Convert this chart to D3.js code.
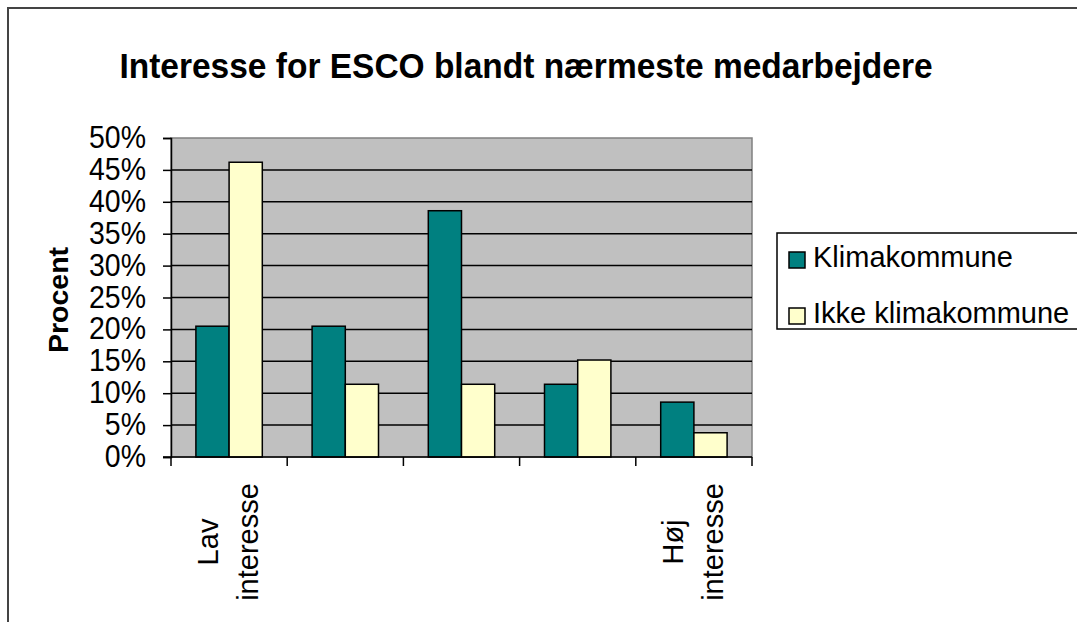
<!DOCTYPE html>
<html>
<head>
<meta charset="utf-8">
<script src="https://cdn.jsdelivr.net/npm/d3@7"></script>
<style>
  body { margin: 0; background: #fff; }
  text { font-family: "Liberation Sans", Arial, sans-serif; fill: #000; }
</style>
</head>
<body>
<script>
// data
const categories = [["Lav", "interesse"], [], [], [], ["Høj", "interesse"]];
const seriesNames = ["Klimakommune", "Ikke klimakommune"];
const klima = [20.5, 20.5, 38.6, 11.4, 8.6];
const ikkeKlima = [46.2, 11.4, 11.4, 15.2, 3.8];
const yTicks = [0, 5, 10, 15, 20, 25, 30, 35, 40, 45, 50];

function init() {
    var w = 1077;
    var h = 622;
    var colors = ["#008080", "#ffffcc"];
    var series = [klima, ikkeKlima];

    var svg = d3.select("body")
        .append("svg")
        .attr("width", w)
        .attr("height", h);

    // outer chart frame
    svg.append("rect")
        .attr("x", 8).attr("y", 8)
        .attr("width", w + 20).attr("height", h + 20)
        .attr("fill", "none")
        .attr("stroke", "#444")
        .attr("stroke-width", 2);

    svg.append("text")
        .attr("transform", "translate(526,78) scale(1,1.05)")
        .attr("text-anchor", "middle")
        .style("font-size", "33.5px")
        .style("font-weight", "bold")
        .text("Interesse for ESCO blandt nærmeste medarbejdere");

    var left = 171, right = 752, top = 138, bottom = 457;

    var xScale = d3.scaleBand()
        .domain(d3.range(categories.length))
        .range([left, right])
        .padding(0);

    var yScale = d3.scaleLinear()
        .domain([0, 50])
        .range([bottom, top]);

    // plot area
    svg.append("rect")
        .attr("x", left).attr("y", top)
        .attr("width", right - left).attr("height", bottom - top)
        .attr("fill", "#c0c0c0")
        .attr("stroke", "#808080")
        .attr("stroke-width", 1.5);

    svg.append("g")
        .selectAll("line")
        .data(yTicks.filter(function(d) { return d > 0 && d < 50; }))
        .enter()
        .append("line")
        .attr("x1", left).attr("x2", right)
        .attr("y1", function(d) { return yScale(d); })
        .attr("y2", function(d) { return yScale(d); })
        .attr("stroke", "#000")
        .attr("stroke-width", 1.5);

    // bars: excel style, gap width 150%
    var barW = xScale.bandwidth() / 3.5;
    var groups = svg.selectAll("g.series")
        .data(series)
        .enter()
        .append("g")
        .attr("class", "series")
        .style("fill", function(d, i) { return colors[i]; });

    groups.selectAll("rect")
        .data(function(d, si) { return d.map(function(v) { return {v: v, s: si}; }); })
        .enter()
        .append("rect")
        .attr("x", function(d, i) { return xScale(i) + barW * 0.75 + d.s * barW; })
        .attr("y", function(d) { return yScale(d.v); })
        .attr("width", barW)
        .attr("height", function(d) { return bottom - yScale(d.v); })
        .attr("stroke", "#000")
        .attr("stroke-width", 1.5);

    // y axis
    var yAxis = d3.axisLeft(yScale)
        .tickValues(yTicks)
        .tickSize(8)
        .tickPadding(17)
        .tickFormat(function(d) { return d + "%"; });

    var yg = svg.append("g")
        .attr("transform", "translate(" + left + ",0)")
        .call(yAxis);
    yg.select(".domain").attr("stroke", "#000").attr("stroke-width", 1.5);
    yg.selectAll(".tick line").attr("stroke", "#000").attr("stroke-width", 1.5);
    yg.selectAll(".tick text")
        .style("font-size", "28.5px")
        .attr("font-family", null)
        .attr("dy", "0.3em")
        .attr("transform", "scale(1,1.12)");

    // x axis, ticks between categories
    var xEdges = d3.range(categories.length + 1).map(function(i) {
        return i < categories.length ? xScale(i) : right;
    });
    svg.append("line")
        .attr("x1", left - 8).attr("x2", right)
        .attr("y1", bottom).attr("y2", bottom)
        .attr("stroke", "#000").attr("stroke-width", 1.5);
    svg.append("g")
        .selectAll("line")
        .data(xEdges)
        .enter()
        .append("line")
        .attr("x1", function(d) { return d; })
        .attr("x2", function(d) { return d; })
        .attr("y1", bottom).attr("y2", bottom + 9)
        .attr("stroke", "#000").attr("stroke-width", 1.5);

    // rotated category labels
    categories.forEach(function(lines, i) {
        var cx = xScale(i) + xScale.bandwidth() / 2;
        lines.forEach(function(line, j) {
            var bx = cx - 11 + j * 40;
            svg.append("text")
                .attr("transform", "translate(" + bx + ",542) rotate(-90)")
                .attr("text-anchor", "middle")
                .style("font-size", "29px")
                .text(line);
        });
    });

    svg.append("text")
        .attr("transform", "translate(68,300) rotate(-90)")
        .attr("text-anchor", "middle")
        .style("font-size", "28.5px")
        .style("font-weight", "bold")
        .text("Procent");

    // legend
    svg.append("rect")
        .attr("x", 777).attr("y", 233)
        .attr("width", 320).attr("height", 96)
        .attr("fill", "#fff")
        .attr("stroke", "#000")
        .attr("stroke-width", 1.5);

    var legend = svg.selectAll("g.legend")
        .data(seriesNames)
        .enter()
        .append("g")
        .attr("class", "legend")
        .attr("transform", function(d, i) { return "translate(789," + (252 + i * 56) + ")"; });

    legend.append("rect")
        .attr("width", 16).attr("height", 16)
        .attr("fill", function(d, i) { return colors[i]; })
        .attr("stroke", "#000")
        .attr("stroke-width", 1.5);

    legend.append("text")
        .attr("x", 24)
        .attr("y", 15)
        .style("font-size", "29px")
        .text(function(d) { return d; });
}
window.onload = init;
</script>
</body>
</html>
